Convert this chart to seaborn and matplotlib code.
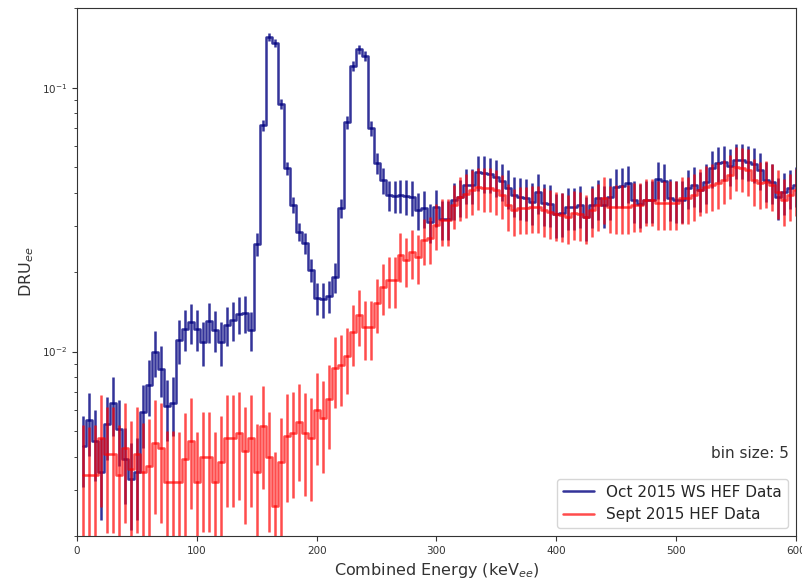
import numpy as np
import pandas as pd
import matplotlib
matplotlib.use("Agg")
import matplotlib.pyplot as plt
import seaborn as sns

# bin positions (keV_ee), 5 keV bins
energy = np.arange(5, 605, 5)

# Oct 2015 WS HEF data (DRU_ee) and relative errors
oct_dru = [
    0.0044, 0.0055, 0.0046, 0.0035, 0.0053, 0.0064, 0.0051, 0.0039, 0.0033, 0.0035,
    0.0059, 0.0075, 0.0100, 0.0086, 0.0062, 0.0064, 0.0111, 0.0122, 0.0129, 0.0122,
    0.0109, 0.0130, 0.0121, 0.0109, 0.0126, 0.0132, 0.0139, 0.0140, 0.0121, 0.0256,
    0.0719, 0.155, 0.148, 0.087, 0.0495, 0.0359, 0.0284, 0.0258, 0.0204, 0.0160,
    0.0158, 0.0163, 0.0192, 0.0349, 0.0738, 0.121, 0.140, 0.132, 0.070, 0.0517,
    0.0446, 0.0391, 0.0388, 0.0391, 0.0388, 0.0385, 0.0343, 0.0349, 0.0310, 0.0352,
    0.0318, 0.0318, 0.0375, 0.0385, 0.0427, 0.0427, 0.0478, 0.0474, 0.0470, 0.0457,
    0.0442, 0.0416, 0.0391, 0.0385, 0.0381, 0.0368, 0.0401, 0.0365, 0.0362, 0.0332,
    0.0335, 0.0352, 0.0352, 0.0359, 0.0323, 0.0359, 0.0381, 0.0359, 0.0385, 0.0420,
    0.0423, 0.0434, 0.0375, 0.0362, 0.0375, 0.0375, 0.0450, 0.0442, 0.0381, 0.0375,
    0.0375, 0.0416, 0.0427, 0.0408, 0.0438, 0.0495, 0.0517, 0.0521, 0.0503, 0.0530,
    0.0530, 0.0521, 0.0512, 0.0486, 0.0446, 0.0438, 0.0385, 0.0401, 0.0416, 0.0427,
]
oct_relerr = [
    0.30, 0.27, 0.30, 0.34, 0.27, 0.25, 0.28, 0.32, 0.36, 0.34,
    0.27, 0.24, 0.20, 0.22, 0.26, 0.25, 0.19, 0.18, 0.17, 0.18,
    0.19, 0.17, 0.18, 0.19, 0.17, 0.17, 0.16, 0.16, 0.17, 0.10,
    0.05, 0.035, 0.035, 0.045, 0.06, 0.07, 0.08, 0.09, 0.10, 0.14,
    0.15, 0.14, 0.13, 0.08, 0.055, 0.045, 0.04, 0.045, 0.065, 0.09,
    0.11, 0.13, 0.14, 0.14, 0.15, 0.15, 0.16, 0.16, 0.17, 0.16,
    0.17, 0.17, 0.16, 0.16, 0.15, 0.15, 0.15, 0.16, 0.15, 0.16,
    0.16, 0.17, 0.17, 0.18, 0.18, 0.18, 0.17, 0.18, 0.18, 0.19,
    0.19, 0.18, 0.18, 0.18, 0.19, 0.18, 0.17, 0.18, 0.18, 0.17,
    0.17, 0.16, 0.18, 0.19, 0.18, 0.18, 0.16, 0.16, 0.18, 0.18,
    0.18, 0.17, 0.17, 0.17, 0.17, 0.16, 0.15, 0.15, 0.16, 0.15,
    0.15, 0.15, 0.15, 0.16, 0.17, 0.17, 0.18, 0.18, 0.17, 0.17,
]

# Sept 2015 HEF data (DRU_ee) and relative errors
sept_dru = [
    0.0034, 0.0034, 0.0034, 0.0047, 0.0041, 0.0041, 0.0034, 0.0043, 0.0036, 0.0041,
    0.0035, 0.0037, 0.0045, 0.0043, 0.0032, 0.0032, 0.0032, 0.0039, 0.0046, 0.0032,
    0.0040, 0.0040, 0.0032, 0.0038, 0.0047, 0.0047, 0.0049, 0.0042, 0.0047, 0.0035,
    0.0052, 0.0040, 0.0026, 0.0038, 0.0048, 0.0049, 0.0054, 0.0049, 0.0047, 0.0060,
    0.0056, 0.0066, 0.0087, 0.0089, 0.0096, 0.0119, 0.0138, 0.0124, 0.0124, 0.0153,
    0.0176, 0.0187, 0.0187, 0.0232, 0.0222, 0.0238, 0.0228, 0.0265, 0.0269, 0.0302,
    0.0315, 0.0315, 0.0359, 0.0385, 0.0395, 0.0408, 0.0420, 0.0416, 0.0416, 0.0408,
    0.0391, 0.0359, 0.0343, 0.0349, 0.0349, 0.0352, 0.0352, 0.0343, 0.0337, 0.0332,
    0.0329, 0.0323, 0.0335, 0.0332, 0.0323, 0.0343, 0.0359, 0.0381, 0.0352, 0.0352,
    0.0352, 0.0352, 0.0359, 0.0359, 0.0375, 0.0375, 0.0365, 0.0365, 0.0365, 0.0365,
    0.0381, 0.0381, 0.0391, 0.0408, 0.0420, 0.0427, 0.0434, 0.0446, 0.0466, 0.0499,
    0.0495, 0.0486, 0.0446, 0.0434, 0.0438, 0.0427, 0.0401, 0.0375, 0.0391, 0.0408,
]
sept_relerr = [
    0.55, 0.52, 0.55, 0.45, 0.50, 0.50, 0.55, 0.48, 0.52, 0.50,
    0.53, 0.50, 0.46, 0.48, 0.56, 0.56, 0.55, 0.50, 0.45, 0.55,
    0.48, 0.48, 0.55, 0.50, 0.45, 0.45, 0.44, 0.47, 0.45, 0.52,
    0.42, 0.48, 0.60, 0.48, 0.44, 0.43, 0.40, 0.42, 0.42, 0.38,
    0.38, 0.35, 0.30, 0.30, 0.28, 0.26, 0.24, 0.25, 0.25, 0.23,
    0.22, 0.22, 0.22, 0.21, 0.21, 0.21, 0.21, 0.20, 0.20, 0.20,
    0.20, 0.20, 0.19, 0.19, 0.19, 0.19, 0.18, 0.19, 0.19, 0.19,
    0.19, 0.20, 0.20, 0.20, 0.20, 0.20, 0.20, 0.21, 0.21, 0.21,
    0.21, 0.21, 0.21, 0.21, 0.21, 0.21, 0.20, 0.20, 0.20, 0.21,
    0.21, 0.21, 0.21, 0.21, 0.20, 0.20, 0.21, 0.21, 0.21, 0.21,
    0.20, 0.20, 0.20, 0.20, 0.20, 0.20, 0.20, 0.19, 0.19, 0.19,
    0.19, 0.20, 0.20, 0.20, 0.20, 0.20, 0.21, 0.20, 0.20, 0.20,
]

series = [
    ("Oct 2015 WS HEF Data", oct_dru, oct_relerr, "navy", 0.8),
    ("Sept 2015 HEF Data", sept_dru, sept_relerr, "red", 0.7),
]

sns.set_style("ticks")
plt.rcParams["font.family"] = ["DejaVu Sans"]

fig = plt.figure(figsize=(8.03, 5.82), dpi=100)
ax = fig.add_axes([0.096, 0.079, 0.895, 0.907])

for label, dru, relerr, color, alpha in series:
    df = pd.DataFrame({"energy": energy, "dru": dru, "relerr": relerr})
    sns.lineplot(data=df, x="energy", y="dru", color=color, alpha=alpha,
                 linewidth=1.8, drawstyle="steps-mid", label=label, ax=ax)
    ax.errorbar(df.energy, df.dru, yerr=df.dru * df.relerr, fmt="none",
                ecolor=color, alpha=alpha, elinewidth=1.8)

ax.set_yscale("log")
ax.set_xlim(0, 600)
ax.set_ylim(0.002, 0.2)
ax.set_xticks([0, 100, 200, 300, 400, 500, 600])
ax.tick_params(labelsize=7.5, colors="0.2")
for side in ["top", "right", "left", "bottom"]:
    ax.spines[side].set_visible(True)
    ax.spines[side].set_color("0.2")

ax.set_xlabel("Combined Energy (keV$_{ee}$)", fontsize=11.5, color="0.2")
ax.set_ylabel("DRU$_{ee}$", fontsize=11.5, color="0.2")
ax.text(0.99, 0.157, "bin size: 5", transform=ax.transAxes, ha="right",
        va="center", fontsize=11, color="0.2")
ax.legend(loc="lower right", fontsize=11, frameon=True)

fig.savefig("out.png", dpi=100)
